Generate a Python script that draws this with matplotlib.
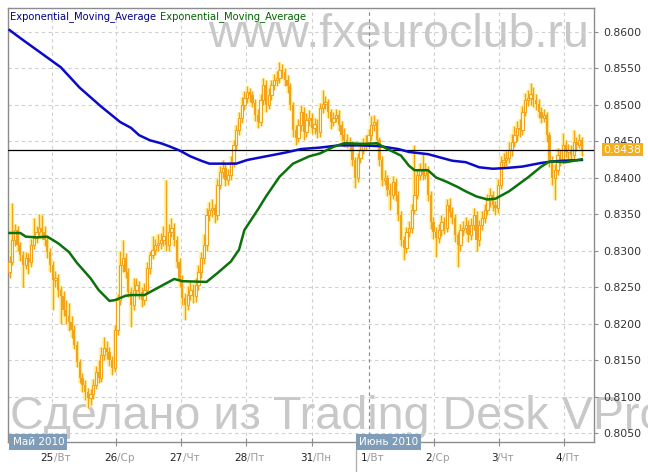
import matplotlib.pyplot as plt
import numpy as np
from matplotlib.offsetbox import TextArea, HPacker, AnnotationBbox
from matplotlib.lines import Line2D

# hourly candles, 24 May - 4 Jun 2010
first_open = 0.8270
close = [0.8284, 0.8314, 0.8328, 0.8308, 0.8294, 0.8280, 0.8290, 0.8284, 0.8308, 0.8317,
         0.8325, 0.8331, 0.8325, 0.8314, 0.8298, 0.8280, 0.8260, 0.8262, 0.8246, 0.8238,
         0.8219, 0.8210, 0.8202, 0.8191, 0.8171, 0.8147, 0.8125, 0.8116, 0.8106, 0.8098,
         0.8103, 0.8116, 0.8134, 0.8125, 0.8157, 0.8166, 0.8161, 0.8150, 0.8139, 0.8191,
         0.8232, 0.8280, 0.8290, 0.8271, 0.8243, 0.8225, 0.8246, 0.8253, 0.8243, 0.8232,
         0.8246, 0.8276, 0.8294, 0.8301, 0.8308, 0.8310, 0.8314, 0.8320, 0.8308, 0.8325,
         0.8331, 0.8314, 0.8284, 0.8260, 0.8235, 0.8225, 0.8239, 0.8246, 0.8238, 0.8253,
         0.8271, 0.8290, 0.8308, 0.8349, 0.8356, 0.8358, 0.8349, 0.8390, 0.8408, 0.8413,
         0.8397, 0.8403, 0.8421, 0.8445, 0.8465, 0.8482, 0.8499, 0.8509, 0.8517, 0.8513,
         0.8502, 0.8486, 0.8476, 0.8506, 0.8527, 0.8499, 0.8513, 0.8527, 0.8534, 0.8536,
         0.8547, 0.8545, 0.8534, 0.8525, 0.8499, 0.8465, 0.8454, 0.8472, 0.8490, 0.8462,
         0.8479, 0.8482, 0.8468, 0.8473, 0.8462, 0.8495, 0.8501, 0.8503, 0.8490, 0.8476,
         0.8482, 0.8486, 0.8472, 0.8458, 0.8451, 0.8449, 0.8445, 0.8424, 0.8399, 0.8427,
         0.8438, 0.8445, 0.8449, 0.8458, 0.8472, 0.8476, 0.8451, 0.8424, 0.8397, 0.8399,
         0.8383, 0.8376, 0.8394, 0.8376, 0.8349, 0.8314, 0.8303, 0.8325, 0.8331, 0.8356,
         0.8376, 0.8403, 0.8410, 0.8403, 0.8410, 0.8376, 0.8339, 0.8325, 0.8317, 0.8328,
         0.8339, 0.8331, 0.8362, 0.8353, 0.8345, 0.8321, 0.8308, 0.8328, 0.8331, 0.8335,
         0.8321, 0.8335, 0.8349, 0.8314, 0.8335, 0.8345, 0.8356, 0.8369, 0.8376, 0.8362,
         0.8358, 0.8390, 0.8421, 0.8424, 0.8427, 0.8438, 0.8449, 0.8458, 0.8468, 0.8465,
         0.8490, 0.8506, 0.8509, 0.8514, 0.8506, 0.8501, 0.8490, 0.8482, 0.8486, 0.8458,
         0.8424, 0.8399, 0.8410, 0.8431, 0.8424, 0.8445, 0.8435, 0.8438, 0.8431, 0.8449,
         0.8445, 0.8451, 0.8438]
high = [0.8292, 0.8365, 0.8336, 0.8334, 0.8312, 0.8300, 0.8298, 0.8296, 0.8316, 0.8345,
        0.8333, 0.8350, 0.8348, 0.8334, 0.8320, 0.8304, 0.8286, 0.8272, 0.8268, 0.8252,
        0.8244, 0.8232, 0.8228, 0.8210, 0.8198, 0.8176, 0.8152, 0.8132, 0.8122, 0.8112,
        0.8110, 0.8124, 0.8142, 0.8150, 0.8168, 0.8182, 0.8176, 0.8168, 0.8156, 0.8198,
        0.8240, 0.8300, 0.8314, 0.8296, 0.8276, 0.8250, 0.8262, 0.8262, 0.8258, 0.8250,
        0.8256, 0.8284, 0.8300, 0.8320, 0.8316, 0.8322, 0.8324, 0.8334, 0.8396, 0.8336,
        0.8344, 0.8338, 0.8320, 0.8290, 0.8266, 0.8242, 0.8252, 0.8258, 0.8254, 0.8262,
        0.8280, 0.8298, 0.8322, 0.8358, 0.8366, 0.8370, 0.8364, 0.8398, 0.8416, 0.8424,
        0.8418, 0.8412, 0.8430, 0.8452, 0.8472, 0.8490, 0.8510, 0.8518, 0.8526, 0.8522,
        0.8518, 0.8508, 0.8494, 0.8514, 0.8536, 0.8534, 0.8522, 0.8534, 0.8542, 0.8546,
        0.8558, 0.8556, 0.8550, 0.8540, 0.8530, 0.8504, 0.8472, 0.8480, 0.8500, 0.8496,
        0.8488, 0.8492, 0.8488, 0.8482, 0.8480, 0.8502, 0.8520, 0.8512, 0.8508, 0.8494,
        0.8490, 0.8494, 0.8492, 0.8478, 0.8468, 0.8460, 0.8456, 0.8450, 0.8428, 0.8434,
        0.8446, 0.8454, 0.8458, 0.8466, 0.8484, 0.8486, 0.8480, 0.8456, 0.8430, 0.8410,
        0.8404, 0.8392, 0.8402, 0.8400, 0.8382, 0.8354, 0.8320, 0.8332, 0.8340, 0.8364,
        0.8445, 0.8410, 0.8420, 0.8432, 0.8420, 0.8416, 0.8382, 0.8346, 0.8332, 0.8336,
        0.8348, 0.8346, 0.8370, 0.8372, 0.8360, 0.8350, 0.8326, 0.8336, 0.8340, 0.8346,
        0.8342, 0.8344, 0.8358, 0.8354, 0.8342, 0.8354, 0.8364, 0.8378, 0.8386, 0.8382,
        0.8368, 0.8398, 0.8430, 0.8434, 0.8436, 0.8448, 0.8460, 0.8470, 0.8478, 0.8480,
        0.8498, 0.8516, 0.8520, 0.8530, 0.8524, 0.8514, 0.8508, 0.8496, 0.8494, 0.8490,
        0.8462, 0.8430, 0.8418, 0.8440, 0.8438, 0.8461, 0.8452, 0.8446, 0.8444, 0.8465,
        0.8456, 0.8460, 0.8456]
low = [0.8262, 0.8280, 0.8306, 0.8300, 0.8286, 0.8250, 0.8274, 0.8268, 0.8278, 0.8302,
       0.8310, 0.8318, 0.8316, 0.8306, 0.8290, 0.8270, 0.8219, 0.8250, 0.8236, 0.8200,
       0.8210, 0.8200, 0.8190, 0.8180, 0.8165, 0.8140, 0.8118, 0.8106, 0.8095, 0.8084,
       0.8088, 0.8096, 0.8110, 0.8118, 0.8120, 0.8150, 0.8152, 0.8142, 0.8130, 0.8134,
       0.8184, 0.8226, 0.8270, 0.8262, 0.8236, 0.8195, 0.8218, 0.8240, 0.8234, 0.8222,
       0.8226, 0.8240, 0.8268, 0.8288, 0.8294, 0.8300, 0.8302, 0.8306, 0.8300, 0.8300,
       0.8318, 0.8306, 0.8276, 0.8250, 0.8226, 0.8205, 0.8218, 0.8232, 0.8228, 0.8230,
       0.8246, 0.8262, 0.8282, 0.8300, 0.8340, 0.8346, 0.8338, 0.8342, 0.8384, 0.8400,
       0.8388, 0.8390, 0.8396, 0.8414, 0.8438, 0.8458, 0.8474, 0.8492, 0.8502, 0.8504,
       0.8496, 0.8478, 0.8468, 0.8470, 0.8500, 0.8490, 0.8494, 0.8506, 0.8520, 0.8526,
       0.8530, 0.8536, 0.8526, 0.8516, 0.8492, 0.8456, 0.8444, 0.8448, 0.8464, 0.8452,
       0.8456, 0.8470, 0.8460, 0.8460, 0.8454, 0.8456, 0.8488, 0.8494, 0.8482, 0.8466,
       0.8470, 0.8476, 0.8464, 0.8450, 0.8442, 0.8440, 0.8436, 0.8416, 0.8386, 0.8394,
       0.8420, 0.8432, 0.8438, 0.8442, 0.8452, 0.8464, 0.8444, 0.8416, 0.8388, 0.8390,
       0.8374, 0.8356, 0.8370, 0.8368, 0.8340, 0.8306, 0.8287, 0.8296, 0.8318, 0.8324,
       0.8350, 0.8370, 0.8396, 0.8396, 0.8398, 0.8368, 0.8330, 0.8316, 0.8291, 0.8310,
       0.8320, 0.8322, 0.8326, 0.8346, 0.8336, 0.8312, 0.8277, 0.8300, 0.8320, 0.8324,
       0.8312, 0.8314, 0.8328, 0.8300, 0.8306, 0.8328, 0.8338, 0.8348, 0.8360, 0.8354,
       0.8348, 0.8352, 0.8384, 0.8414, 0.8416, 0.8420, 0.8430, 0.8442, 0.8450, 0.8456,
       0.8458, 0.8484, 0.8498, 0.8500, 0.8496, 0.8492, 0.8482, 0.8474, 0.8476, 0.8448,
       0.8414, 0.8390, 0.8369, 0.8404, 0.8416, 0.8418, 0.8428, 0.8426, 0.8422, 0.8426,
       0.8436, 0.8440, 0.8430]

# moving averages, read at candle positions
blue_idx = [0, 4, 19, 26, 34, 41, 45, 48, 52, 56, 59, 63, 67, 71, 74, 84, 88, 95, 102, 108,
            115, 122, 130, 137, 144, 148, 155, 159, 164, 169, 174, 179, 184, 190, 197, 201, 205, 212]
blue_val = [0.8602, 0.8591, 0.8551, 0.8523, 0.8497, 0.8476, 0.8468, 0.8458, 0.8451, 0.8447,
            0.8443, 0.8437, 0.8429, 0.8423, 0.8419, 0.8419, 0.8424, 0.8429, 0.8434, 0.8439,
            0.8441, 0.8444, 0.8444, 0.8443, 0.8439, 0.8435, 0.8432, 0.8428, 0.8423, 0.8421,
            0.8414, 0.8412, 0.8413, 0.8415, 0.8420, 0.8422, 0.8423, 0.8424]
green_idx = [0, 4, 6, 10, 14, 18, 22, 25, 30, 33, 37, 39, 43, 45, 50, 53, 58, 61, 64, 73,
             77, 82, 85, 87, 92, 95, 100, 105, 111, 115, 120, 124, 132, 136, 140, 145, 148, 150, 155, 158,
             162, 166, 169, 173, 177, 180, 185, 192, 197, 200, 206, 212]
green_val = [0.8324, 0.8324, 0.8319, 0.8318, 0.8319, 0.8310, 0.8298, 0.8283, 0.8262, 0.8246,
             0.8231, 0.8232, 0.8238, 0.8239, 0.8239, 0.8245, 0.8255, 0.8261, 0.8258, 0.8257,
             0.8269, 0.8285, 0.8301, 0.8328, 0.8356, 0.8374, 0.8401, 0.8419, 0.8429, 0.8433,
             0.8442, 0.8447, 0.8446, 0.8447, 0.8439, 0.8430, 0.8416, 0.8410, 0.8410, 0.8400,
             0.8394, 0.8387, 0.8381, 0.8374, 0.8370, 0.8371, 0.8381, 0.8400, 0.8415, 0.8422,
             0.8421, 0.8425]

day_ticks = [15.7, 39.4, 63.5, 87.6, 112.0, 133.1, 157.2, 181.3, 205.4]
day_num = ['25', '26', '27', '28', '31', '1', '2', '3', '4']
day_name = ['Вт', 'Ср', 'Чт', 'Пт', 'Пн', 'Вт', 'Ср', 'Чт', 'Пт']
price_ticks = [0.8050, 0.8100, 0.8150, 0.8200, 0.8250, 0.8300,
               0.8350, 0.8400, 0.8450, 0.8500, 0.8550, 0.8600]
last_price = 0.8438

ORANGE = '#f2a31b'
GLOW = '#fff5a8'
FRAME = '#8c8c8c'

fig = plt.figure(figsize=(6.48, 4.72), dpi=100)
fig.patch.set_facecolor('white')
ax = fig.add_axes([8 / 648, 30 / 472, 586 / 648, 434 / 472])
ax.set_facecolor('none')

# watermarks behind everything
fig.text(208 / 648, 1 - 47 / 472, 'www.fxeuroclub.ru', fontsize=33.6,
         family='Liberation Sans', color='#c8c8c8', va='baseline', zorder=-1)
fig.text(10 / 648, 1 - 429 / 472, 'Сделано из Trading Desk VPro', fontsize=33.6,
         family='Liberation Sans', color='#c8c8c8', va='baseline', zorder=-1)

# candles
c = np.array(close)
o = np.array([first_open] + close[:-1])
x = np.arange(len(c))
up = c >= o
body_lo = np.minimum(o, c)
body_h = np.maximum(np.abs(c - o), 0.00008)

ax.vlines(x, low, high, color=GLOW, lw=3.2, zorder=2)
ax.bar(x, body_h, bottom=body_lo, width=1.45, color=GLOW, zorder=2)
ax.vlines(x, low, high, color=ORANGE, lw=1.0, zorder=3)
ax.bar(x[up], body_h[up], bottom=body_lo[up], width=0.85, facecolor='#fffbe0',
       edgecolor=ORANGE, lw=0.8, zorder=4)
ax.bar(x[~up], body_h[~up], bottom=body_lo[~up], width=0.85, color=ORANGE,
       lw=0, zorder=4)

ax.axhline(last_price, color='black', lw=0.9, zorder=4.5)
ax.plot(blue_idx, blue_val, color='#0a0ac8', lw=1.8, zorder=5)
ax.plot(green_idx, green_val, color='#0b720b', lw=1.8, zorder=5)

ax.set_xlim(-0.56, 216.5)
ax.set_ylim(0.80377, 0.86322)

# grid and frame
ax.set_axisbelow(True)
ax.grid(True, color='#cfcfcf', ls=(0, (3, 3)), lw=0.8)
ax.axvline(day_ticks[5], color='#8a8a8a', ls=(0, (3, 3)), lw=0.8, zorder=1)
for s in ax.spines.values():
    s.set_color(FRAME)
    s.set_linewidth(1)

ax.yaxis.tick_right()
ax.set_yticks(price_ticks)
ax.set_yticklabels(['%.4f' % v for v in price_ticks])
ax.tick_params(axis='y', length=3, color=FRAME, labelcolor='#333333',
               labelsize=7.8, pad=4)
ax.set_xticks(day_ticks)
ax.tick_params(axis='x', direction='inout', length=6, color=FRAME, labelbottom=False)

# day labels: number dark, weekday grey
for t, n, d in zip(day_ticks, day_num, day_name):
    box = HPacker(children=[TextArea(n, textprops=dict(color='#222222', size=7.5)),
                            TextArea('/' + d, textprops=dict(color='#999999', size=7.5))],
                  align='baseline', pad=0, sep=0)
    ab = AnnotationBbox(box, (t, 0), xycoords=('data', 'axes fraction'),
                        xybox=(2.5, -11.5), boxcoords='offset points',
                        frameon=False, box_alignment=(0.5, 0.5),
                        annotation_clip=False)
    ax.add_artist(ab)

# month boxes
ax.annotate('Май 2010', xy=(0, 0), xycoords='axes fraction', xytext=(3.3, 0),
            textcoords='offset points', ha='left', va='center', color='white',
            size=7.5, bbox=dict(boxstyle='square,pad=0.3', fc='#7f9db9', ec='none'),
            annotation_clip=False, zorder=6)
ax.annotate('Июнь 2010', xy=(day_ticks[5], 0), xycoords=('data', 'axes fraction'),
            xytext=(-7.2, 0), textcoords='offset points', ha='left', va='center',
            color='white', size=7.5,
            bbox=dict(boxstyle='square,pad=0.3', fc='#7f9db9', ec='none'),
            annotation_clip=False, zorder=6)
fig.add_artist(Line2D([356.5 / 648] * 2, [0, 22 / 472], color='#b0b0b0', lw=1))

# last price marker
ax.annotate('%.4f' % last_price, xy=(1, last_price), xycoords=('axes fraction', 'data'),
            xytext=(7, 0), textcoords='offset points', ha='left', va='center',
            color='white', size=7.8,
            bbox=dict(boxstyle='square,pad=0.15', fc='#f5ae1c', ec='none'),
            annotation_clip=False, zorder=6)

# legend text
t1 = ax.annotate('Exponential_Moving_Average', xy=(0, 1), xycoords='axes fraction',
                 xytext=(1.5, -5.8), textcoords='offset points', ha='left', va='center',
                 color='#00008b', size=7.2)
ax.annotate('Exponential_Moving_Average', xy=(1, 0.5), xycoords=t1,
            xytext=(3, 0), textcoords='offset points', ha='left', va='center',
            color='#006400', size=7.2)

plt.savefig('out.png', dpi=100)
